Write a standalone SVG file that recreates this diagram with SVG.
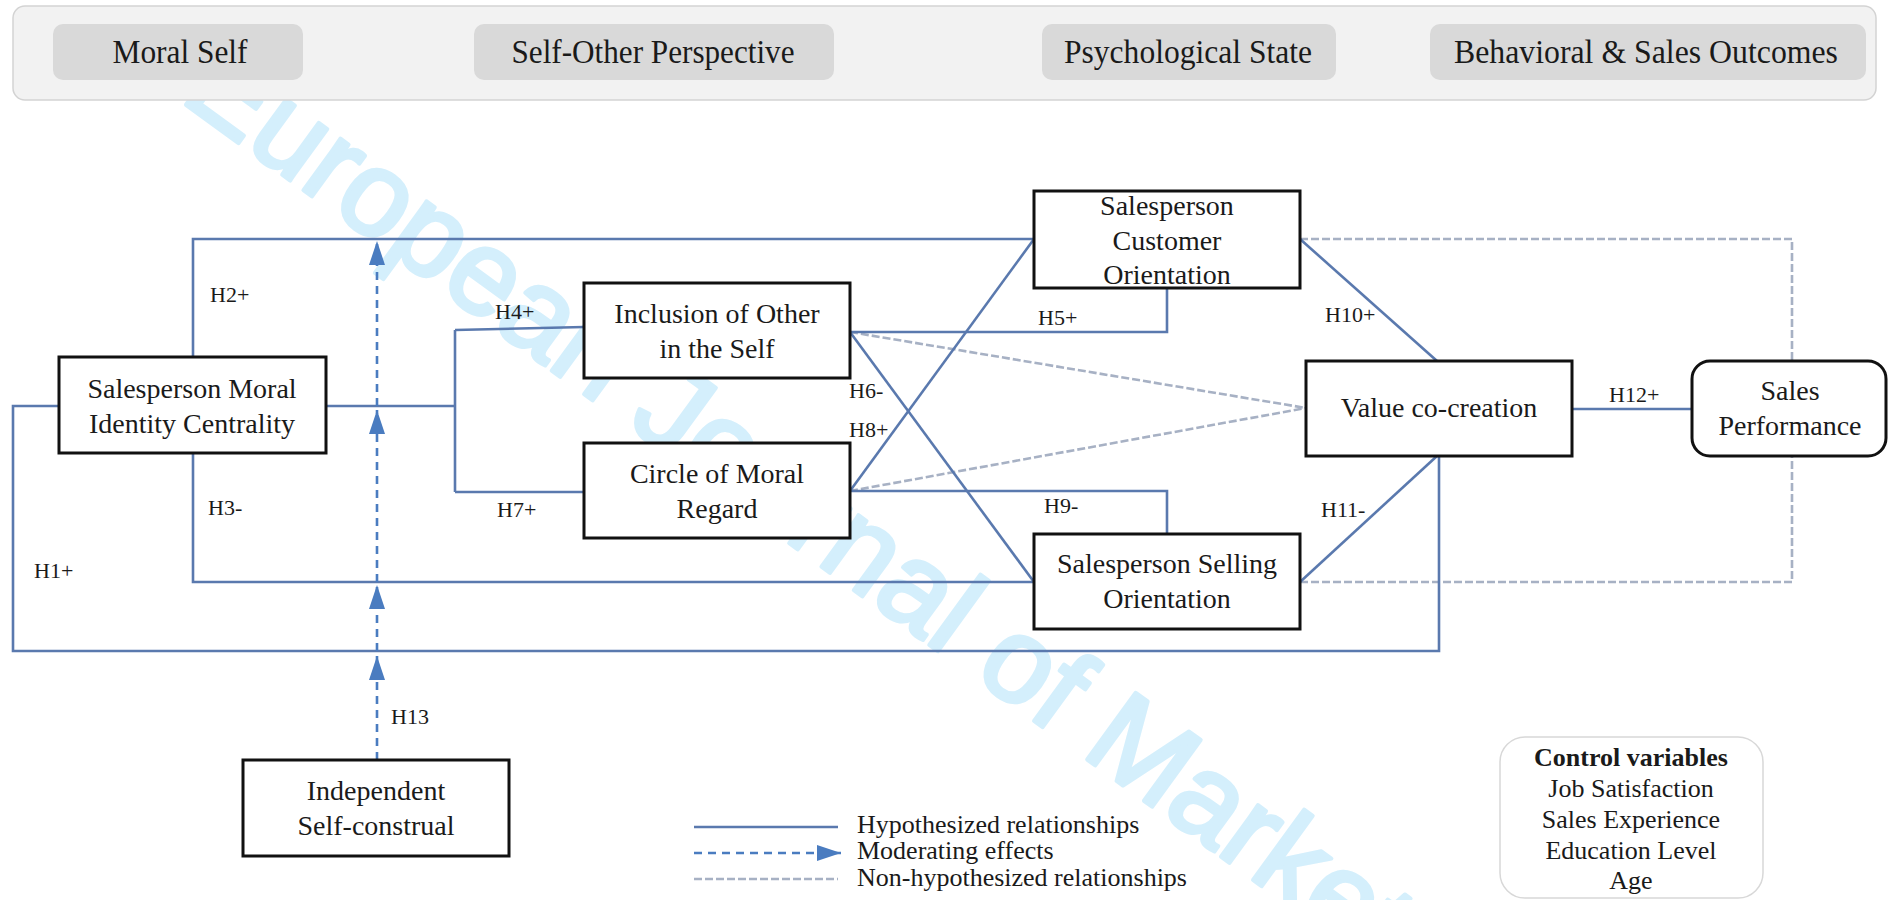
<svg xmlns="http://www.w3.org/2000/svg" width="1889" height="900" viewBox="0 0 1889 900">
<defs>
<style>
.node{fill:#fff;stroke:#111;stroke-width:3}
.t{font-family:"Liberation Serif","Times New Roman",serif;font-size:28px;fill:#1a1a1a;text-anchor:middle}
.hd{font-family:"Liberation Serif","Times New Roman",serif;font-size:34px;fill:#1a1a1a;text-anchor:middle}
.lb{font-family:"Liberation Serif","Times New Roman",serif;font-size:22px;fill:#1a1a1a}
.lg{font-family:"Liberation Serif","Times New Roman",serif;font-size:26px;fill:#1a1a1a}
.sol{fill:none;stroke:#5a79ae;stroke-width:2.6}
.non{fill:none;stroke:#a7b1c4;stroke-width:2.6;stroke-dasharray:8 3}
.mod{fill:none;stroke:#4a7cc0;stroke-width:2.6;stroke-dasharray:8 6;marker-end:url(#arr)}
.pill{fill:#d9d9d9}
</style>
<marker id="arr" viewBox="0 0 24 16" refX="24" refY="8" markerWidth="24" markerHeight="16" markerUnits="userSpaceOnUse" orient="auto">
<path d="M0,0 L24,8 L0,16 z" fill="#4a7cc0"/>
</marker>
</defs>
<rect width="1889" height="900" fill="#fff"/>
<g id="watermark">
<text x="178" y="99" transform="rotate(36 178 99)" font-family="Liberation Sans, Arial, sans-serif" font-size="120" fill="#d4effc" stroke="#d4effc" stroke-width="4" stroke-linejoin="round">European Journal of Marketing</text>
</g>
<g id="header">
<rect x="13" y="6" width="1863" height="94" rx="12" fill="#f2f2f2" stroke="#d3d3d3" stroke-width="1.5"/>
<rect class="pill" x="53" y="24" width="250" height="56" rx="10"/>
<text class="hd" x="180" y="63" textLength="135" lengthAdjust="spacingAndGlyphs">Moral Self</text>
<rect class="pill" x="474" y="24" width="360" height="56" rx="10"/>
<text class="hd" x="653" y="63" textLength="283" lengthAdjust="spacingAndGlyphs">Self-Other Perspective</text>
<rect class="pill" x="1042" y="24" width="294" height="56" rx="10"/>
<text class="hd" x="1188" y="63" textLength="248" lengthAdjust="spacingAndGlyphs">Psychological State</text>
<rect class="pill" x="1430" y="24" width="436" height="56" rx="10"/>
<text class="hd" x="1646" y="63" textLength="384" lengthAdjust="spacingAndGlyphs">Behavioral &amp; Sales Outcomes</text>
</g>
<g id="connectors">
<path class="non" d="M850,332 L1306,408"/>
<path class="non" d="M850,491 L1306,408"/>
<path class="non" d="M1300,239 H1792 V361"/>
<path class="non" d="M1300,582 H1792 V456"/>
<path class="sol" d="M193,357 V239 H1034"/>
<path class="sol" d="M193,453 V582 H1034"/>
<path class="sol" d="M59,406 H13 V651 H1439 V456"/>
<path class="sol" d="M326,406 H455"/>
<path class="sol" d="M455,330 V492"/>
<path class="sol" d="M455,330 L584,327"/>
<path class="sol" d="M455,492 H584"/>
<path class="sol" d="M850,332 H1167 V288"/>
<path class="sol" d="M850,491 H1167 V534"/>
<path class="sol" d="M850,332 L1034,582"/>
<path class="sol" d="M850,491 L1034,239"/>
<path class="sol" d="M1300,239 L1437,361"/>
<path class="sol" d="M1300,582 L1437,456"/>
<path class="sol" d="M1572,409 H1692"/>
<path class="mod" d="M377,760 V656"/>
<path class="mod" d="M377,651 V585"/>
<path class="mod" d="M377,582 V410"/>
<path class="mod" d="M377,406 V241"/>
</g>
<g id="labels">
<text class="lb" x="210" y="302">H2+</text>
<text class="lb" x="495" y="319">H4+</text>
<text class="lb" x="208" y="515">H3-</text>
<text class="lb" x="497" y="517">H7+</text>
<text class="lb" x="34" y="578">H1+</text>
<text class="lb" x="1038" y="325">H5+</text>
<text class="lb" x="1044" y="513">H9-</text>
<text class="lb" x="849" y="398">H6-</text>
<text class="lb" x="849" y="437">H8+</text>
<text class="lb" x="1325" y="322">H10+</text>
<text class="lb" x="1321" y="517">H11-</text>
<text class="lb" x="1609" y="402">H12+</text>
<text class="lb" x="391" y="724">H13</text>
</g>
<g id="moral-identity">
<rect class="node" x="59" y="357" width="267" height="96"/>
<text class="t" x="192" y="398">Salesperson Moral</text>
<text class="t" x="192" y="433">Identity Centrality</text>
</g>
<g id="inclusion">
<rect class="node" x="584" y="283" width="266" height="95"/>
<text class="t" x="717" y="323">Inclusion of Other</text>
<text class="t" x="717" y="358">in the Self</text>
</g>
<g id="circle">
<rect class="node" x="584" y="443" width="266" height="95"/>
<text class="t" x="717" y="483">Circle of Moral</text>
<text class="t" x="717" y="518">Regard</text>
</g>
<g id="customer-orientation">
<rect class="node" x="1034" y="191" width="266" height="97"/>
<text class="t" x="1167" y="215">Salesperson</text>
<text class="t" x="1167" y="250">Customer</text>
<text class="t" x="1167" y="284">Orientation</text>
</g>
<g id="selling-orientation">
<rect class="node" x="1034" y="534" width="266" height="95"/>
<text class="t" x="1167" y="573">Salesperson Selling</text>
<text class="t" x="1167" y="608">Orientation</text>
</g>
<g id="value-cocreation">
<rect class="node" x="1306" y="361" width="266" height="95"/>
<text class="t" x="1439" y="417">Value co-creation</text>
</g>
<g id="sales-performance">
<rect class="node" x="1692" y="361" width="194" height="95" rx="18"/>
<text class="t" x="1790" y="400">Sales</text>
<text class="t" x="1790" y="435">Performance</text>
</g>
<g id="independent">
<rect class="node" x="243" y="760" width="266" height="96"/>
<text class="t" x="376" y="800">Independent</text>
<text class="t" x="376" y="835">Self-construal</text>
</g>
<g id="legend">
<path class="sol" d="M694,827 H838"/>
<path class="mod" d="M694,853 H841"/>
<path class="non" d="M694,879 H838"/>
<text class="lg" x="857" y="833">Hypothesized relationships</text>
<text class="lg" x="857" y="859">Moderating effects</text>
<text class="lg" x="857" y="886">Non-hypothesized relationships</text>
</g>
<g id="control-variables">
<rect x="1500" y="737" width="263" height="161" rx="25" fill="#fff" stroke="#d8d8d8" stroke-width="1.5"/>
<text class="lg" x="1631" y="766" text-anchor="middle" font-weight="bold">Control variables</text>
<text class="lg" x="1631" y="797" text-anchor="middle">Job Satisfaction</text>
<text class="lg" x="1631" y="828" text-anchor="middle">Sales Experience</text>
<text class="lg" x="1631" y="859" text-anchor="middle">Education Level</text>
<text class="lg" x="1631" y="889" text-anchor="middle">Age</text>
</g>
</svg>
